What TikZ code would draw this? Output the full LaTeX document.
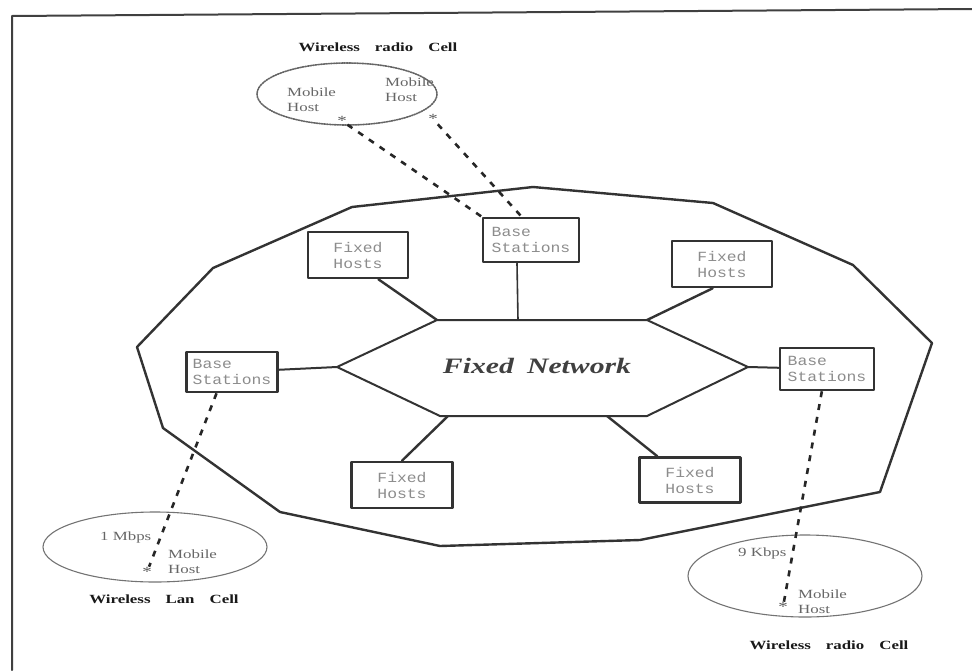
\documentclass[tikz,border=0pt]{standalone}
\usepackage{fontspec}
\newfontfamily\capfont{Liberation Serif}[FakeStretch=1.35]
\newfontfamily\boxfont{Liberation Mono}[FakeStretch=1.17]

\begin{document}
\begin{tikzpicture}[x=1pt,y=-1pt,line cap=round,line join=round,
  wire/.style={draw=black!80,line width=2.4pt},
  hostbox/.style={draw=black!80,line width=2.6pt,fill=white,inner sep=0pt,align=left,
    text=black!45,font={\boxfont\fontsize{14}{16}\selectfont}},
  radio/.style={draw=black!85,line width=2.6pt,line cap=butt,dash pattern=on 6pt off 7pt},
  host/.style={inner sep=0pt,align=left,text=black!60,font={\capfont\fontsize{12.5}{15}\selectfont}},
  mobile/.style={inner sep=0.5pt,text=black!65,font={\capfont\fontsize{14}{14}\selectfont}},
  celltitle/.style={inner sep=0pt,text=black!90,font={\capfont\bfseries\fontsize{12.5}{14}\selectfont}}]
  \useasboundingbox (0,0) rectangle (972,670);
  \draw[line width=2pt,black!75] (12,670) -- (12,16) -- (972,9);
  \draw[wire] (137,347) -- (213,268) -- (352,207) -- (533,187) -- (713,203) -- (853,265) -- (932,343)
    -- (880,492) -- (640,540) -- (440,546) -- (280,512) -- (163,428) -- cycle;

  \coordinate (hexL) at (337,367);
  \coordinate (hexTL) at (437,320);
  \coordinate (hexTR) at (647,320);
  \coordinate (hexR) at (748,367);
  \coordinate (hexBR) at (647,416);
  \coordinate (hexBL) at (440,416);
  \coordinate (hexT) at (518,320);
  \coordinate (hexB1) at (448,416);
  \coordinate (hexB2) at (607,416);
  \draw[wire,line width=2pt] (hexL) -- (hexTL) -- (hexTR) -- (hexR) -- (hexBR) -- (hexBL) -- cycle;
  \node[inner sep=0pt,text=black!75,font={\capfont\bfseries\itshape\fontsize{22}{26}\selectfont}]
    (net) at (537,366) {Fixed\hspace{0.6em}Network};

  \node[hostbox,minimum width=100pt,minimum height=46pt] (fhTL) at (358,255) {Fixed\\Hosts};
  \node[hostbox,minimum width=96pt,minimum height=44pt] (bsT) at (531,240) {Base\\Stations};
  \node[hostbox,minimum width=100pt,minimum height=46pt] (fhTR) at (722,264) {Fixed\\Hosts};
  \node[hostbox,minimum width=91pt,minimum height=40pt] (bsL) at (232,372) {Base\\Stations};
  \node[hostbox,minimum width=94pt,minimum height=42pt] (bsR) at (827,369) {Base\\Stations};
  \node[hostbox,minimum width=101pt,minimum height=46pt] (fhBL) at (402,485) {Fixed\\Hosts};
  \node[hostbox,minimum width=101pt,minimum height=45pt] (fhBR) at (690,480) {Fixed\\Hosts};

  \draw[wire] (fhTL.-50) -- (hexTL);
  \draw[wire,line width=1.6pt] (bsT.-121) -- (hexT);
  \draw[wire] (fhTR.-111) -- (hexTR);
  \draw[wire,line width=2pt] (bsL) -- (hexL);
  \draw[wire,line width=2pt] (hexR) -- (bsR);
  \draw[wire] (hexB1) -- (fhBL.north);
  \draw[wire] (hexB2) -- (fhBR.144);

  \draw[black!60,line width=1.6pt,densely dotted] (347,94) ellipse [x radius=90,y radius=31];
  \draw[black!55,line width=1.1pt] (155,547) ellipse [x radius=112,y radius=35];
  \draw[black!55,line width=1.1pt] (805,576) ellipse [x radius=117,y radius=41];

  \node[celltitle] (cellA) at (378,47) {Wireless\hspace{15pt}radio\hspace{15pt}Cell};
  \node[celltitle] (cellC) at (164,599) {Wireless\hspace{15pt}Lan\hspace{15pt}Cell};
  \node[celltitle] (cellD) at (829,645) {Wireless\hspace{15pt}radio\hspace{15pt}Cell};

  \node[host,anchor=west] (hostA) at (287,100) {Mobile\\Host};
  \node[host,anchor=west] (hostB) at (385,90) {Mobile\\Host};
  \node[host,anchor=west] (rateC) at (100,537) {1 Mbps};
  \node[host,anchor=west] (hostC) at (168,562) {Mobile\\Host};
  \node[host,anchor=west] (rateD) at (738,553) {9 Kbps};
  \node[host,anchor=west] (hostD) at (798,602) {Mobile\\Host};

  \node[mobile] (mhA) at (342,121) {*};
  \node[mobile] (mhB) at (433,119) {*};
  \node[mobile] (mhC) at (147,572) {*};
  \node[mobile] (mhD) at (783,607) {*};

  \draw[radio] (mhA) -- (bsT.north west);
  \draw[radio] (mhB) -- (bsT.112);
  \draw[radio] (bsL.-126) -- (mhC);
  \draw[radio] (bsR.-103) -- (mhD);
\end{tikzpicture}
\end{document}
